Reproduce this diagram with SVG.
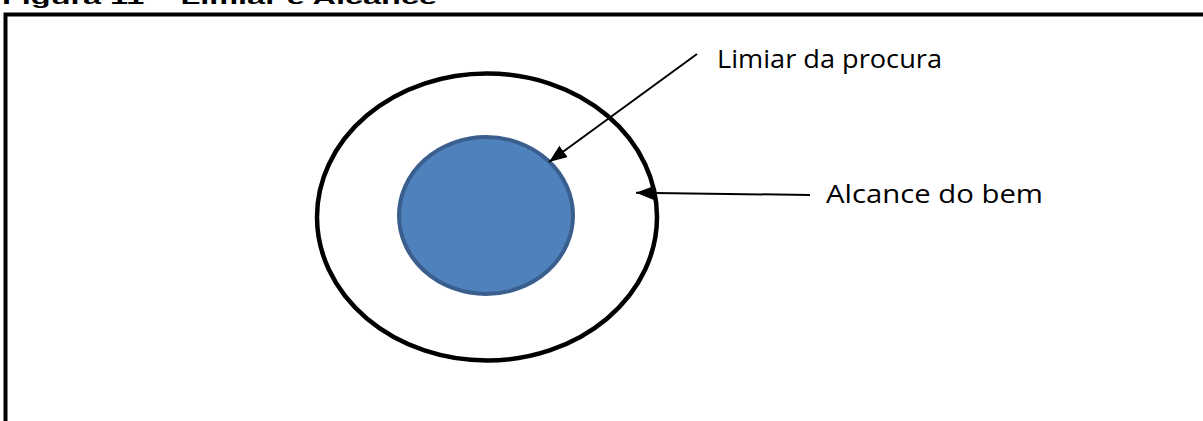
<svg xmlns="http://www.w3.org/2000/svg" width="1203" height="421" viewBox="0 0 1203 421">
<style>
.title{font-family:"Liberation Sans",Arial,sans-serif;font-weight:bold;font-size:18px;fill:#000}
.lbl{font-family:"Open Sans","Noto Sans",sans-serif;font-size:25px;fill:#000}
.conn{stroke:#000;stroke-width:2;fill:none}
</style>
<defs>
<marker id="ah" markerUnits="userSpaceOnUse" markerWidth="18" markerHeight="14" refX="18" refY="7" orient="auto">
<path d="M0,0 L18,7 L0,14 Z" fill="#000"/>
</marker>
</defs>
<rect width="1203" height="421" fill="#fff"/>
<text class="title" x="2" y="4" textLength="435" lengthAdjust="spacingAndGlyphs">Figura 11 – Limiar e Alcance</text>
<rect x="5.5" y="14.5" width="1250" height="450" fill="none" stroke="#000" stroke-width="4"/>
<g id="alcance">
<ellipse cx="487" cy="217" rx="170" ry="143.5" fill="none" stroke="#000" stroke-width="4.5"/>
</g>
<g id="limiar">
<ellipse cx="486" cy="215.5" rx="87" ry="78.5" fill="#4F81BD" stroke="#3A5F8E" stroke-width="4"/>
</g>
<g id="connectors">
<line class="conn" x1="697" y1="54" x2="549" y2="162" marker-end="url(#ah)"/>
<line class="conn" x1="810" y1="195" x2="636" y2="192.7" marker-end="url(#ah)"/>
</g>
<g id="label-limiar">
<text class="lbl" x="717" y="68" textLength="225" lengthAdjust="spacingAndGlyphs">Limiar da procura</text>
</g>
<g id="label-alcance">
<text class="lbl" x="826" y="203" textLength="217" lengthAdjust="spacingAndGlyphs">Alcance do bem</text>
</g>
</svg>
